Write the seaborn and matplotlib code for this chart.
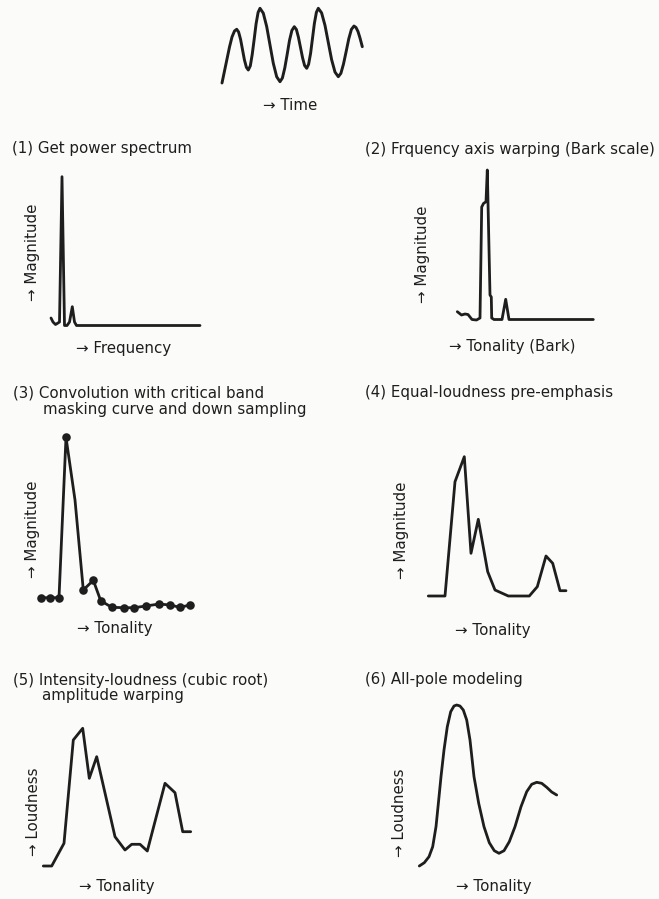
import matplotlib
matplotlib.use('Agg')
import matplotlib.pyplot as plt
import seaborn as sns

sns.set_theme(style='white')
plt.rcParams['font.family'] = ['DejaVu Sans']

W, H = 659, 899
INK = '#1e1e1e'
BG = '#fbfbfa'
FS = 10.8

# --- data (arbitrary units) ---
wave_t = [0, 2.5, 5, 7.5, 10, 12.5, 14.7,
          16.6, 18.6, 20.5, 22.4, 24.4, 26.3,
          28.3, 30.2, 32.2, 34.1, 36.1, 38,
          41.3, 44.7, 48, 51.3, 54.7, 58,
          60.4, 62.8, 65.2, 67.5, 69.9, 72.3,
          74.4, 76.4, 78.5, 80.6, 82.6, 84.7,
          86.6, 88.6, 90.5, 92.4, 94.4, 96.3,
          99.6, 103, 106.3, 109.6, 113, 116.3,
          118.9, 121.5, 124.2, 126.8, 129.4, 132,
          134, 136, 138, 140.3]
wave_a = [0, 12, 24, 36, 46, 52, 53.7,
          51.0, 43.5, 33.4, 23.2, 15.7, 13,
          17.1, 28.4, 43.9, 59.3, 70.6, 74.7,
          69.8, 56.4, 38.0, 19.7, 6.2, 1.3,
          5.0, 15.1, 28.8, 42.6, 52.6, 56.3,
          53.5, 45.9, 35.5, 25.1, 17.5, 14.7,
          18.7, 29.7, 44.7, 59.7, 70.7, 74.7,
          70.1, 57.6, 40.5, 23.4, 10.9, 6.3,
          9.7, 19.0, 31.7, 44.3, 53.6, 57,
          55.5, 51.5, 45, 36.3]

p1_freq = [0, 2, 4.5, 7, 8.5, 11, 13.5, 16, 18.5, 21.3, 23.5, 25.5, 149]
p1_mag = [7.5, 3.5, 1, 2.5, 3.5, 148.8, 0, 0, 3.5, 18.8, 3.5, 0, 0]

p2_bark = [0, 4.2, 7.7, 10.7, 14.7, 19.2, 22.7, 24.4, 26.2, 28.7, 30,
           32.7, 34, 34.4, 36.7, 44.7, 48.4, 51.7, 136]
p2_mag = [8.3, 5, 6, 5.5, 0.5, 0, 2, 113, 116.5, 118.3, 150,
          25, 23, 2, 0.5, 0.5, 20.7, 0.5, 0.5]

p3_ton = [0, 9, 18, 25, 34, 42.3, 52.3, 59.7, 70.7, 83, 93.3, 104.7, 118.3, 129, 139, 149]
p3_mag = [10, 10, 10, 170.4, 107.7, 17.7, 27.4, 7, 0.4, 0, 0, 1.7, 3.7, 2.7, 0.4, 2.7]
p3_sampled = [True, True, True, True, False, True, True, True, True, True, True,
              True, True, True, True, True]

p4_ton = [0, 16.7, 26.7, 36, 42.7, 50, 59.4, 66.7, 80, 101, 109, 117.7, 124.4, 131.7, 137.7]
p4_mag = [0, 0, 114.3, 139.3, 42.7, 76.7, 24.3, 6, 0, 0, 9.3, 40, 32.7, 5.3, 5.3]

p5_ton = [0, 8.4, 20.7, 30, 39.4, 46, 53.4, 71.7, 81.7, 88.4, 96.7, 104, 121.7, 131.7, 139.4, 147.4]
p5_loud = [0, 0, 22.7, 126, 137.7, 87.7, 109.3, 29.3, 16, 21.7, 21.7, 15, 82.7, 73.3, 34.3, 34.3]

p6_ton = [0, 5, 9.7, 13.4, 16.7, 19.4, 21.7, 24.7, 28, 31.4, 34.7, 37.4, 40.7, 44, 47.4,
          50.7, 54.7, 59.4, 64.7, 70, 75, 79.7, 84.7, 90, 95.7, 101.7, 107.4, 112.4,
          117.4, 122.4, 127.4, 132.4, 137.4]
p6_loud = [0, 3.3, 9.3, 19.3, 39.3, 66, 89.3, 116, 139.3, 154.3, 160, 161, 160, 156, 146,
           126, 89.3, 62.7, 39.3, 23.3, 15.3, 12.7, 15.3, 24.3, 39.3, 59.3, 74.3, 81.7,
           83.7, 82.7, 78.7, 74, 71]

fig = plt.figure(figsize=(W / 100, H / 100), dpi=100, facecolor=BG)


def panel(box, xs, ys, lw=2.0):
    # box = (left, top, right, bottom) in pixels of the page
    x0, y0, x1, y1 = box
    ax = fig.add_axes([x0 / W, 1 - y1 / H, (x1 - x0) / W, (y1 - y0) / H])
    sns.lineplot(x=xs, y=ys, ax=ax, color=INK, linewidth=lw, sort=False,
                 estimator=None, clip_on=False)
    ax.set_xlim(min(xs), max(xs))
    ax.set_ylim(min(ys), max(ys))
    ax.set_axis_off()
    return ax


def label(x, y, s, rot=0, ha='center'):
    fig.text(x / W, 1 - y / H, s, fontsize=FS, color=INK, rotation=rot,
             ha=ha, va='center')


# top: time signal
panel((222, 8.3, 362.3, 83), wave_t, wave_a, lw=2.1)
label(290, 105, '→ Time')

# (1)
panel((51, 176.7, 200, 325.5), p1_freq, p1_mag)
label(12, 148, '(1) Get power spectrum', ha='left')
label(32, 252, '→ Magnitude', rot=90)
label(123.5, 348, '→ Frequency')

# (2)
panel((457.3, 170, 593.3, 320), p2_bark, p2_mag)
label(365, 149.5, '(2) Frquency axis warping (Bark scale)', ha='left')
label(423, 254, '→ Magnitude', rot=90)
label(512.5, 347, '→ Tonality (Bark)')

# (3)
ax3 = panel((41, 437.3, 190, 607.7), p3_ton, p3_mag)
dots_x = [t for t, k in zip(p3_ton, p3_sampled) if k]
dots_y = [m for m, k in zip(p3_mag, p3_sampled) if k]
sns.scatterplot(x=dots_x, y=dots_y, ax=ax3, color=INK, s=38, edgecolor=INK,
                linewidth=0, clip_on=False, zorder=3)
label(13, 392.5, '(3) Convolution with critical band', ha='left')
label(43, 409.5, 'masking curve and down sampling', ha='left')
label(33, 529.5, '→ Magnitude', rot=90)
label(115, 628, '→ Tonality')

# (4)
panel((428.3, 456.7, 566, 596), p4_ton, p4_mag)
label(365, 392.5, '(4) Equal-loudness pre-emphasis', ha='left')
label(401.7, 530, '→ Magnitude', rot=90)
label(493, 631, '→ Tonality')

# (5)
panel((43.3, 728.3, 190.7, 866), p5_ton, p5_loud)
label(13, 680, '(5) Intensity-loudness (cubic root)', ha='left')
label(42, 695.5, 'amplitude warping', ha='left')
label(33.3, 811.5, '→ Loudness', rot=90)
label(116.7, 886, '→ Tonality')

# (6)
panel((419.3, 705, 556.7, 866), p6_ton, p6_loud)
label(365, 679.5, '(6) All-pole modeling', ha='left')
label(400, 813, '→ Loudness', rot=90)
label(494, 887, '→ Tonality')

fig.savefig('out.png', dpi=100, facecolor=BG)
plt.close(fig)
